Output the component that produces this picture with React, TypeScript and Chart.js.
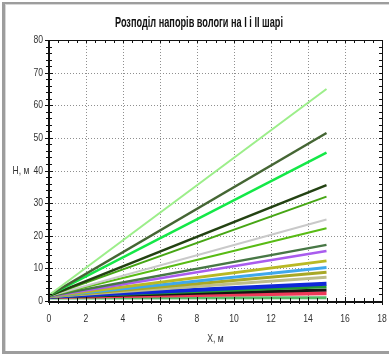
import React, { useEffect, useRef } from "react";
import { Chart, registerables } from "chart.js";

Chart.register(...registerables);

const TITLE = "Розподіл напорів вологи на І і ІІ шарі";
const X_LABEL = "X, м";
const Y_LABEL = "H, м";

// x positions of the two ends of every line
const X_POINTS = [0, 15];
// value of each series at x = 0
const START_VALUES = [1.8, 1.7, 1.7, 1.6, 1.6, 1.5, 1.5, 1.5, 1.4, 1.4, 1.4, 1.3, 1.3, 1.3, 1.2, 1.2, 1.2, 0.9];
// value of each series at x = 15
const END_VALUES = [65, 51.5, 45.5, 35.5, 32, 25, 22.3, 17.2, 15.3, 12.3, 10.3, 8.8, 7.3, 5.3, 4.4, 3.4, 2.4, 1.0];

const X_MIN = 0, X_MAX = 18, X_STEP = 2, X_MINOR = 0.5;
const Y_MIN = 0, Y_MAX = 80, Y_STEP = 10, Y_MINOR = 2;

// styles
const COLORS = [
  "#9cee8a", "#456634", "#14e847", "#234212", "#46a614", "#c9c9c9", "#58bb14", "#477745",
  "#a95cee", "#b9b924", "#3fa8ec", "#a8a826", "#bdbd8a", "#0f27d8", "#239a34", "#141414",
  "#ee3a58", "#55bb66",
];
const WIDTHS = [2, 2.5, 2.5, 2.5, 2, 2, 2, 2.5, 2.5, 3, 3, 3, 3, 4, 3, 3, 4, 3];

const FONT = "'Liberation Sans', Arial, sans-serif";
const SQUASH = 0.78;

function squashedText(ctx: CanvasRenderingContext2D, text: string, x: number, y: number, align: CanvasTextAlign) {
  ctx.save();
  ctx.translate(x, y);
  ctx.scale(SQUASH, 1);
  ctx.textAlign = align;
  ctx.fillText(text, 0, 0);
  ctx.restore();
}

const decorPlugin = {
  id: "decor",
  beforeDatasetsDraw(chart: any) {
    const { ctx, chartArea: a, scales } = chart;
    const xs = scales.x, ys = scales.y;
    ctx.save();
    ctx.strokeStyle = "#8f8f8f";
    ctx.lineWidth = 1;
    ctx.setLineDash([1, 2]);
    for (let v = X_MIN + X_STEP; v < X_MAX; v += X_STEP) {
      const px = Math.round(xs.getPixelForValue(v)) + 0.5;
      ctx.beginPath();
      ctx.moveTo(px, a.top);
      ctx.lineTo(px, a.bottom);
      ctx.stroke();
    }
    for (let v = Y_MIN + Y_STEP; v < Y_MAX; v += Y_STEP) {
      const py = Math.round(ys.getPixelForValue(v)) + 0.5;
      ctx.beginPath();
      ctx.moveTo(a.left, py);
      ctx.lineTo(a.right, py);
      ctx.stroke();
    }
    ctx.restore();
  },
  afterDraw(chart: any) {
    const { ctx, chartArea: a, scales, width, height } = chart;
    const xs = scales.x, ys = scales.y;
    ctx.save();
    // outer panel border
    ctx.fillStyle = "#9d9d9d";
    ctx.fillRect(2, 2, 3, height - 4);
    ctx.fillRect(2, 2, width - 2, 2);
    ctx.fillRect(2, height - 5, width - 2, 3);
    ctx.fillStyle = "#d8d8d8";
    ctx.fillRect(5, 4, 1, height - 9);
    ctx.fillRect(5, 4, width - 5, 1);

    // plot frame
    ctx.strokeStyle = "#111";
    ctx.lineWidth = 1;
    ctx.strokeRect(Math.round(a.left) + 0.5, Math.round(a.top) + 0.5, Math.round(a.right - a.left), Math.round(a.bottom - a.top));
    ctx.lineWidth = 2;
    ctx.beginPath();
    ctx.moveTo(Math.round(a.left), a.top);
    ctx.lineTo(Math.round(a.left), a.bottom + 1);
    ctx.lineTo(a.right, a.bottom + 1);
    ctx.stroke();

    // ticks
    ctx.lineWidth = 1;
    const nx = Math.round((X_MAX - X_MIN) / X_MINOR);
    for (let i = 0; i <= nx; i++) {
      const v = X_MIN + i * X_MINOR;
      const major = Math.abs(v / X_STEP - Math.round(v / X_STEP)) < 1e-6;
      const px = Math.round(xs.getPixelForValue(v)) + 0.5;
      ctx.beginPath();
      ctx.moveTo(px, a.bottom - (major ? 4 : 3));
      ctx.lineTo(px, a.bottom + (major ? 4 : 3));
      ctx.moveTo(px, a.top);
      ctx.lineTo(px, a.top + 3);
      ctx.stroke();
    }
    const ny = Math.round((Y_MAX - Y_MIN) / Y_MINOR);
    for (let i = 0; i <= ny; i++) {
      const v = Y_MIN + i * Y_MINOR;
      const major = Math.abs(v / Y_STEP - Math.round(v / Y_STEP)) < 1e-6;
      const py = Math.round(ys.getPixelForValue(v)) + 0.5;
      ctx.beginPath();
      ctx.moveTo(a.left - (major ? 4 : 3), py);
      ctx.lineTo(a.left + (major ? 4 : 3), py);
      ctx.moveTo(a.right - 3, py);
      ctx.lineTo(a.right, py);
      ctx.stroke();
    }

    // tick labels (positions from the library's scales)
    ctx.fillStyle = "#333";
    ctx.textBaseline = "middle";
    ctx.font = "11px " + FONT;
    xs.ticks.forEach((t: any) => {
      squashedText(ctx, String(t.value), xs.getPixelForValue(t.value), a.bottom + 18, "center");
    });
    ys.ticks.forEach((t: any) => {
      squashedText(ctx, String(t.value), a.left - 6, ys.getPixelForValue(t.value), "right");
    });

    // title
    ctx.fillStyle = "#111";
    ctx.font = "bold 14px " + FONT;
    ctx.textAlign = "center";
    const tw = ctx.measureText(TITLE).width;
    const target = 168;
    ctx.save();
    ctx.translate(199, 23);
    ctx.scale(target / tw, 1);
    ctx.fillText(TITLE, 0, 0);
    ctx.restore();

    // axis titles
    ctx.fillStyle = "#333";
    ctx.font = "11px " + FONT;
    squashedText(ctx, Y_LABEL, 21, ys.getPixelForValue(40), "center");
    squashedText(ctx, X_LABEL, (a.left + a.right) / 2, 339, "center");
    ctx.restore();
  },
};

export default function App() {
  const ref = useRef<HTMLCanvasElement | null>(null);

  useEffect(() => {
    document.body.style.margin = "0";
    const canvas = ref.current;
    if (!canvas) return;
    const datasets = END_VALUES.map((end, i) => ({
      label: "s" + i,
      data: X_POINTS.map((x, j) => ({ x, y: j === 0 ? START_VALUES[i] : end })),
      borderColor: COLORS[i],
      backgroundColor: COLORS[i],
      borderWidth: WIDTHS[i],
      pointRadius: 0,
      tension: 0,
      fill: false,
    }));
    const chart = new Chart(canvas, {
      type: "line",
      data: { datasets },
      options: {
        responsive: false,
        animation: false,
        devicePixelRatio: 1,
        layout: { padding: { top: 40, right: 7, left: 0, bottom: 0 } },
        plugins: { legend: { display: false }, tooltip: { enabled: false }, title: { display: false } },
        scales: {
          x: {
            type: "linear",
            min: X_MIN,
            max: X_MAX,
            ticks: { stepSize: X_STEP, display: false },
            grid: { display: false, drawTicks: false },
            border: { display: false },
            afterFit: (s: any) => { s.height = 55; },
          },
          y: {
            type: "linear",
            min: Y_MIN,
            max: Y_MAX,
            ticks: { stepSize: Y_STEP, display: false },
            grid: { display: false, drawTicks: false },
            border: { display: false },
            afterFit: (s: any) => { s.width = 49; },
          },
        },
      },
      plugins: [decorPlugin],
    } as any);
    return () => chart.destroy();
  }, []);

  return <canvas ref={ref} width={389} height={356} style={{ display: "block" }} />;
}
